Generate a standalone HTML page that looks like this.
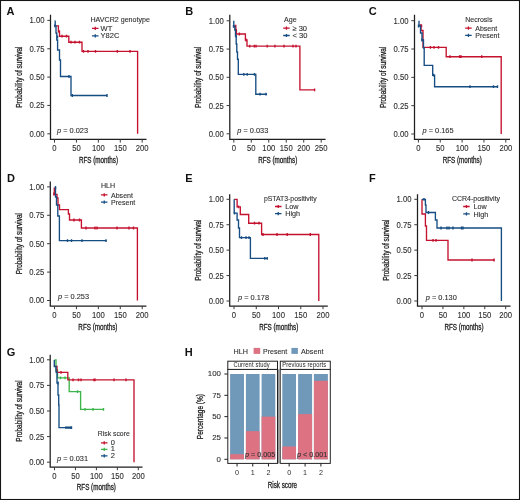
<!DOCTYPE html><html><head><meta charset="utf-8"><style>html,body{margin:0;padding:0;background:#fff;width:520px;height:500px;overflow:hidden;position:relative}</style></head><body><svg width="520" height="500" viewBox="0 0 520 500" style="position:absolute;left:0;top:0;will-change:transform;font-family:'Liberation Sans', sans-serif">
<rect x="0" y="0" width="520" height="500" fill="#fff"/>
<text x="6.5" y="14.6" font-size="11" font-weight="bold" fill="#111">A</text>
<path d="M50.5 14.8 V139.4 H146.5" fill="none" stroke="#1e1e1e" stroke-width="1.25"/>
<path d="M47.3 20.4 H50.5" stroke="#3a3a3a" stroke-width="1.0"/>
<g transform="translate(44.50 23.35) scale(1 1.12)"><text x="0" y="0" font-size="7.7" text-anchor="end" fill="#2e2e2e" font-weight="normal" stroke="#2e2e2e" stroke-width="0.1">1.00</text></g>
<path d="M47.3 48.75 H50.5" stroke="#3a3a3a" stroke-width="1.0"/>
<g transform="translate(44.50 51.70) scale(1 1.12)"><text x="0" y="0" font-size="7.7" text-anchor="end" fill="#2e2e2e" font-weight="normal" stroke="#2e2e2e" stroke-width="0.1">0.75</text></g>
<path d="M47.3 77.1 H50.5" stroke="#3a3a3a" stroke-width="1.0"/>
<g transform="translate(44.50 80.05) scale(1 1.12)"><text x="0" y="0" font-size="7.7" text-anchor="end" fill="#2e2e2e" font-weight="normal" stroke="#2e2e2e" stroke-width="0.1">0.50</text></g>
<path d="M47.3 105.45000000000002 H50.5" stroke="#3a3a3a" stroke-width="1.0"/>
<g transform="translate(44.50 108.40) scale(1 1.12)"><text x="0" y="0" font-size="7.7" text-anchor="end" fill="#2e2e2e" font-weight="normal" stroke="#2e2e2e" stroke-width="0.1">0.25</text></g>
<path d="M47.3 133.8 H50.5" stroke="#3a3a3a" stroke-width="1.0"/>
<g transform="translate(44.50 136.75) scale(1 1.12)"><text x="0" y="0" font-size="7.7" text-anchor="end" fill="#2e2e2e" font-weight="normal" stroke="#2e2e2e" stroke-width="0.1">0.00</text></g>
<path d="M54.5 139.4 V142.6" stroke="#3a3a3a" stroke-width="1.0"/>
<g transform="translate(54.50 151.30) scale(1 1.12)"><text x="0" y="0" font-size="7.7" text-anchor="middle" fill="#2e2e2e" font-weight="normal" stroke="#2e2e2e" stroke-width="0.1">0</text></g>
<path d="M76.425 139.4 V142.6" stroke="#3a3a3a" stroke-width="1.0"/>
<g transform="translate(76.42 151.30) scale(1 1.12)"><text x="0" y="0" font-size="7.7" text-anchor="middle" fill="#2e2e2e" font-weight="normal" stroke="#2e2e2e" stroke-width="0.1">50</text></g>
<path d="M98.35 139.4 V142.6" stroke="#3a3a3a" stroke-width="1.0"/>
<g transform="translate(98.35 151.30) scale(1 1.12)"><text x="0" y="0" font-size="7.7" text-anchor="middle" fill="#2e2e2e" font-weight="normal" stroke="#2e2e2e" stroke-width="0.1">100</text></g>
<path d="M120.275 139.4 V142.6" stroke="#3a3a3a" stroke-width="1.0"/>
<g transform="translate(120.28 151.30) scale(1 1.12)"><text x="0" y="0" font-size="7.7" text-anchor="middle" fill="#2e2e2e" font-weight="normal" stroke="#2e2e2e" stroke-width="0.1">150</text></g>
<path d="M142.2 139.4 V142.6" stroke="#3a3a3a" stroke-width="1.0"/>
<g transform="translate(142.20 151.30) scale(1 1.12)"><text x="0" y="0" font-size="7.7" text-anchor="middle" fill="#2e2e2e" font-weight="normal" stroke="#2e2e2e" stroke-width="0.1">200</text></g>
<g transform="translate(21.8 77.10000000000001) rotate(-90) scale(0.765 1)"><text x="0" y="0" font-size="8.5" text-anchor="middle" fill="#222" stroke="#222" stroke-width="0.3">Probability of survival</text></g>
<g transform="translate(98.5 163.3) scale(0.74 1)"><text x="0" y="0" font-size="8.5" text-anchor="middle" fill="#222" stroke="#222" stroke-width="0.3">RFS (months)</text></g>
<path d="M55.3 25.8 H58.4 V31.4 H59.5 V36.2 H68.8 V42.2 H82 V51.4 H137.6 V133.8" fill="none" stroke="#C4122F" stroke-width="1.35" stroke-linejoin="miter"/>
<path d="M58.9 30.0 V32.8 M62 34.800000000000004 V37.6 M66.5 34.800000000000004 V37.6 M71 40.800000000000004 V43.6 M75 40.800000000000004 V43.6 M79.5 40.800000000000004 V43.6 M83.5 50.0 V52.8 M88 50.0 V52.8 M95.5 50.0 V52.8 M117.3 50.0 V52.8 M130 50.0 V52.8" stroke="#C4122F" stroke-width="1.4"/>
<path d="M55.2 20.4 V25.8 H56 V33 H56.8 V40 H57.6 V50 H59.5 V60 H60.5 V76.5 H71 V95.5 H107" fill="none" stroke="#164D82" stroke-width="1.35" stroke-linejoin="miter"/>
<path d="M54.8 24.400000000000002 V27.2 M57.5 35.6 V38.4 M69 75.1 V77.9 M72.3 94.1 V96.9 M107 94.1 V96.9" stroke="#164D82" stroke-width="1.4"/>
<text x="90.5" y="21.9" font-size="7.1" text-anchor="start" fill="#2e2e2e" font-weight="normal" stroke="#2e2e2e" stroke-width="0.1">HAVCR2 genotype</text>
<path d="M92 28.4 H98.5 M95.25 26.799999999999997 V30.0" stroke="#C4122F" stroke-width="1.3"/>
<text x="100.6" y="31.0" font-size="7.5" text-anchor="start" fill="#2e2e2e" font-weight="normal" stroke="#2e2e2e" stroke-width="0.1">WT</text>
<path d="M92 35.8 H98.5 M95.25 34.199999999999996 V37.4" stroke="#164D82" stroke-width="1.3"/>
<text x="100.6" y="38.4" font-size="7.5" text-anchor="start" fill="#2e2e2e" font-weight="normal" stroke="#2e2e2e" stroke-width="0.1">Y82C</text>
<text x="57" y="132.6" font-size="7.4" fill="#2e2e2e" stroke="#2e2e2e" stroke-width="0.1"><tspan font-style="italic">p</tspan> = 0.023</text>
<text x="185.2" y="14.8" font-size="11" font-weight="bold" fill="#111">B</text>
<path d="M229.8 14.8 V139.4 H325.6" fill="none" stroke="#1e1e1e" stroke-width="1.25"/>
<path d="M226.60000000000002 20.8 H229.8" stroke="#3a3a3a" stroke-width="1.0"/>
<g transform="translate(223.80 23.75) scale(1 1.12)"><text x="0" y="0" font-size="7.7" text-anchor="end" fill="#2e2e2e" font-weight="normal" stroke="#2e2e2e" stroke-width="0.1">1.00</text></g>
<path d="M226.60000000000002 49.050000000000004 H229.8" stroke="#3a3a3a" stroke-width="1.0"/>
<g transform="translate(223.80 52.00) scale(1 1.12)"><text x="0" y="0" font-size="7.7" text-anchor="end" fill="#2e2e2e" font-weight="normal" stroke="#2e2e2e" stroke-width="0.1">0.75</text></g>
<path d="M226.60000000000002 77.30000000000001 H229.8" stroke="#3a3a3a" stroke-width="1.0"/>
<g transform="translate(223.80 80.25) scale(1 1.12)"><text x="0" y="0" font-size="7.7" text-anchor="end" fill="#2e2e2e" font-weight="normal" stroke="#2e2e2e" stroke-width="0.1">0.50</text></g>
<path d="M226.60000000000002 105.55000000000001 H229.8" stroke="#3a3a3a" stroke-width="1.0"/>
<g transform="translate(223.80 108.50) scale(1 1.12)"><text x="0" y="0" font-size="7.7" text-anchor="end" fill="#2e2e2e" font-weight="normal" stroke="#2e2e2e" stroke-width="0.1">0.25</text></g>
<path d="M226.60000000000002 133.8 H229.8" stroke="#3a3a3a" stroke-width="1.0"/>
<g transform="translate(223.80 136.75) scale(1 1.12)"><text x="0" y="0" font-size="7.7" text-anchor="end" fill="#2e2e2e" font-weight="normal" stroke="#2e2e2e" stroke-width="0.1">0.00</text></g>
<path d="M233.8 139.4 V142.6" stroke="#3a3a3a" stroke-width="1.0"/>
<g transform="translate(233.80 151.30) scale(1 1.12)"><text x="0" y="0" font-size="7.7" text-anchor="middle" fill="#2e2e2e" font-weight="normal" stroke="#2e2e2e" stroke-width="0.1">0</text></g>
<path d="M251.28 139.4 V142.6" stroke="#3a3a3a" stroke-width="1.0"/>
<g transform="translate(251.28 151.30) scale(1 1.12)"><text x="0" y="0" font-size="7.7" text-anchor="middle" fill="#2e2e2e" font-weight="normal" stroke="#2e2e2e" stroke-width="0.1">50</text></g>
<path d="M268.76 139.4 V142.6" stroke="#3a3a3a" stroke-width="1.0"/>
<g transform="translate(268.76 151.30) scale(1 1.12)"><text x="0" y="0" font-size="7.7" text-anchor="middle" fill="#2e2e2e" font-weight="normal" stroke="#2e2e2e" stroke-width="0.1">100</text></g>
<path d="M286.24 139.4 V142.6" stroke="#3a3a3a" stroke-width="1.0"/>
<g transform="translate(286.24 151.30) scale(1 1.12)"><text x="0" y="0" font-size="7.7" text-anchor="middle" fill="#2e2e2e" font-weight="normal" stroke="#2e2e2e" stroke-width="0.1">150</text></g>
<path d="M303.72 139.4 V142.6" stroke="#3a3a3a" stroke-width="1.0"/>
<g transform="translate(303.72 151.30) scale(1 1.12)"><text x="0" y="0" font-size="7.7" text-anchor="middle" fill="#2e2e2e" font-weight="normal" stroke="#2e2e2e" stroke-width="0.1">200</text></g>
<path d="M321.20000000000005 139.4 V142.6" stroke="#3a3a3a" stroke-width="1.0"/>
<g transform="translate(321.20 151.30) scale(1 1.12)"><text x="0" y="0" font-size="7.7" text-anchor="middle" fill="#2e2e2e" font-weight="normal" stroke="#2e2e2e" stroke-width="0.1">250</text></g>
<g transform="translate(201.0 77.30000000000001) rotate(-90) scale(0.765 1)"><text x="0" y="0" font-size="8.5" text-anchor="middle" fill="#222" stroke="#222" stroke-width="0.3">Probability of survival</text></g>
<g transform="translate(277.70000000000005 163.3) scale(0.74 1)"><text x="0" y="0" font-size="8.5" text-anchor="middle" fill="#222" stroke="#222" stroke-width="0.3">RFS (months)</text></g>
<path d="M234.5 25.5 H235.8 V30.5 H236.4 V34 H245.4 V40 H247 V46.1 H299.9 V89.9 H314.6" fill="none" stroke="#C4122F" stroke-width="1.35" stroke-linejoin="miter"/>
<path d="M236.3 29.1 V31.9 M239.4 32.6 V35.4 M246 38.6 V41.4 M249.7 44.7 V47.5 M254.3 44.7 V47.5 M256 44.7 V47.5 M267.2 44.7 V47.5 M274.9 44.7 V47.5 M284 44.7 V47.5 M293 44.7 V47.5 M296 44.7 V47.5 M314.6 88.5 V91.30000000000001" stroke="#C4122F" stroke-width="1.4"/>
<path d="M233.8 20.8 V26.4 H234.8 V30 H235.5 V36 H236.2 V44 H236.8 V52 H237.5 V59.2 H238.3 V74.3 H255.8 V94.2 H267" fill="none" stroke="#164D82" stroke-width="1.35" stroke-linejoin="miter"/>
<path d="M233.5 25.0 V27.799999999999997 M236 34.6 V37.4 M243.8 72.89999999999999 V75.7 M247.2 72.89999999999999 V75.7 M254.5 72.89999999999999 V75.7 M260 92.8 V95.60000000000001 M266 92.8 V95.60000000000001" stroke="#164D82" stroke-width="1.4"/>
<text x="284.1" y="21.5" font-size="7.1" text-anchor="start" fill="#2e2e2e" font-weight="normal" stroke="#2e2e2e" stroke-width="0.1">Age</text>
<path d="M283.2 28.1 H289.7 M286.45 26.5 V29.700000000000003" stroke="#C4122F" stroke-width="1.3"/>
<text x="292.5" y="30.700000000000003" font-size="7.5" text-anchor="start" fill="#2e2e2e" font-weight="normal" stroke="#2e2e2e" stroke-width="0.1">≥ 30</text>
<path d="M283.2 35.5 H289.7 M286.45 33.9 V37.1" stroke="#164D82" stroke-width="1.3"/>
<text x="292.5" y="38.1" font-size="7.5" text-anchor="start" fill="#2e2e2e" font-weight="normal" stroke="#2e2e2e" stroke-width="0.1">&lt; 30</text>
<text x="237.3" y="132.6" font-size="7.4" fill="#2e2e2e" stroke="#2e2e2e" stroke-width="0.1"><tspan font-style="italic">p</tspan> = 0.033</text>
<text x="368.7" y="14.8" font-size="11" font-weight="bold" fill="#111">C</text>
<path d="M414.5 14.8 V139.3 H510.0" fill="none" stroke="#1e1e1e" stroke-width="1.25"/>
<path d="M411.3 20.7 H414.5" stroke="#3a3a3a" stroke-width="1.0"/>
<g transform="translate(408.50 23.65) scale(1 1.12)"><text x="0" y="0" font-size="7.7" text-anchor="end" fill="#2e2e2e" font-weight="normal" stroke="#2e2e2e" stroke-width="0.1">1.00</text></g>
<path d="M411.3 49.025 H414.5" stroke="#3a3a3a" stroke-width="1.0"/>
<g transform="translate(408.50 51.98) scale(1 1.12)"><text x="0" y="0" font-size="7.7" text-anchor="end" fill="#2e2e2e" font-weight="normal" stroke="#2e2e2e" stroke-width="0.1">0.75</text></g>
<path d="M411.3 77.35 H414.5" stroke="#3a3a3a" stroke-width="1.0"/>
<g transform="translate(408.50 80.30) scale(1 1.12)"><text x="0" y="0" font-size="7.7" text-anchor="end" fill="#2e2e2e" font-weight="normal" stroke="#2e2e2e" stroke-width="0.1">0.50</text></g>
<path d="M411.3 105.675 H414.5" stroke="#3a3a3a" stroke-width="1.0"/>
<g transform="translate(408.50 108.62) scale(1 1.12)"><text x="0" y="0" font-size="7.7" text-anchor="end" fill="#2e2e2e" font-weight="normal" stroke="#2e2e2e" stroke-width="0.1">0.25</text></g>
<path d="M411.3 134.0 H414.5" stroke="#3a3a3a" stroke-width="1.0"/>
<g transform="translate(408.50 136.95) scale(1 1.12)"><text x="0" y="0" font-size="7.7" text-anchor="end" fill="#2e2e2e" font-weight="normal" stroke="#2e2e2e" stroke-width="0.1">0.00</text></g>
<path d="M418.4 139.3 V142.5" stroke="#3a3a3a" stroke-width="1.0"/>
<g transform="translate(418.40 151.20) scale(1 1.12)"><text x="0" y="0" font-size="7.7" text-anchor="middle" fill="#2e2e2e" font-weight="normal" stroke="#2e2e2e" stroke-width="0.1">0</text></g>
<path d="M440.25 139.3 V142.5" stroke="#3a3a3a" stroke-width="1.0"/>
<g transform="translate(440.25 151.20) scale(1 1.12)"><text x="0" y="0" font-size="7.7" text-anchor="middle" fill="#2e2e2e" font-weight="normal" stroke="#2e2e2e" stroke-width="0.1">50</text></g>
<path d="M462.09999999999997 139.3 V142.5" stroke="#3a3a3a" stroke-width="1.0"/>
<g transform="translate(462.10 151.20) scale(1 1.12)"><text x="0" y="0" font-size="7.7" text-anchor="middle" fill="#2e2e2e" font-weight="normal" stroke="#2e2e2e" stroke-width="0.1">100</text></g>
<path d="M483.95 139.3 V142.5" stroke="#3a3a3a" stroke-width="1.0"/>
<g transform="translate(483.95 151.20) scale(1 1.12)"><text x="0" y="0" font-size="7.7" text-anchor="middle" fill="#2e2e2e" font-weight="normal" stroke="#2e2e2e" stroke-width="0.1">150</text></g>
<path d="M505.79999999999995 139.3 V142.5" stroke="#3a3a3a" stroke-width="1.0"/>
<g transform="translate(505.80 151.20) scale(1 1.12)"><text x="0" y="0" font-size="7.7" text-anchor="middle" fill="#2e2e2e" font-weight="normal" stroke="#2e2e2e" stroke-width="0.1">200</text></g>
<g transform="translate(385.8 77.35) rotate(-90) scale(0.765 1)"><text x="0" y="0" font-size="8.5" text-anchor="middle" fill="#222" stroke="#222" stroke-width="0.3">Probability of survival</text></g>
<g transform="translate(462.25 163.3) scale(0.74 1)"><text x="0" y="0" font-size="8.5" text-anchor="middle" fill="#222" stroke="#222" stroke-width="0.3">RFS (months)</text></g>
<path d="M419.5 25 H421 V30.5 H423 V47.3 H446.2 V56.7 H501.2 V134" fill="none" stroke="#C4122F" stroke-width="1.35" stroke-linejoin="miter"/>
<path d="M421.5 24.6 V27.4 M430.4 45.9 V48.699999999999996 M434 45.9 V48.699999999999996 M438.5 45.9 V48.699999999999996 M450 55.300000000000004 V58.1 M459.6 55.300000000000004 V58.1 M461 55.300000000000004 V58.1 M481.7 55.300000000000004 V58.1" stroke="#C4122F" stroke-width="1.4"/>
<path d="M419 20.7 V26 H420.5 V33 H422 V40 H423.5 V48 H424.2 V65.4 H432.7 V75.2 H434.6 V86.7 H498" fill="none" stroke="#164D82" stroke-width="1.35" stroke-linejoin="miter"/>
<path d="M418.5 24.6 V27.4 M422 38.6 V41.4 M433.5 73.8 V76.60000000000001 M470 85.3 V88.10000000000001 M493.5 85.3 V88.10000000000001 M497.5 85.3 V88.10000000000001" stroke="#164D82" stroke-width="1.4"/>
<text x="465.2" y="21.8" font-size="7.0" text-anchor="start" fill="#2e2e2e" font-weight="normal" stroke="#2e2e2e" stroke-width="0.1">Necrosis</text>
<path d="M465.2 28.1 H471.7 M468.45 26.5 V29.700000000000003" stroke="#C4122F" stroke-width="1.3"/>
<text x="475.3" y="30.700000000000003" font-size="7.0" text-anchor="start" fill="#2e2e2e" font-weight="normal" stroke="#2e2e2e" stroke-width="0.1">Absent</text>
<path d="M465.2 35.300000000000004 H471.7 M468.45 33.7 V36.900000000000006" stroke="#164D82" stroke-width="1.3"/>
<text x="475.3" y="37.900000000000006" font-size="7.0" text-anchor="start" fill="#2e2e2e" font-weight="normal" stroke="#2e2e2e" stroke-width="0.1">Present</text>
<text x="422.5" y="132.6" font-size="7.4" fill="#2e2e2e" stroke="#2e2e2e" stroke-width="0.1"><tspan font-style="italic">p</tspan> = 0.165</text>
<text x="7.0" y="182.2" font-size="11" font-weight="bold" fill="#111">D</text>
<path d="M50.3 181.5 V306.0 H146.4" fill="none" stroke="#1e1e1e" stroke-width="1.25"/>
<path d="M47.099999999999994 186.9 H50.3" stroke="#3a3a3a" stroke-width="1.0"/>
<g transform="translate(44.30 189.85) scale(1 1.12)"><text x="0" y="0" font-size="7.7" text-anchor="end" fill="#2e2e2e" font-weight="normal" stroke="#2e2e2e" stroke-width="0.1">1.00</text></g>
<path d="M47.099999999999994 215.3 H50.3" stroke="#3a3a3a" stroke-width="1.0"/>
<g transform="translate(44.30 218.25) scale(1 1.12)"><text x="0" y="0" font-size="7.7" text-anchor="end" fill="#2e2e2e" font-weight="normal" stroke="#2e2e2e" stroke-width="0.1">0.75</text></g>
<path d="M47.099999999999994 243.7 H50.3" stroke="#3a3a3a" stroke-width="1.0"/>
<g transform="translate(44.30 246.65) scale(1 1.12)"><text x="0" y="0" font-size="7.7" text-anchor="end" fill="#2e2e2e" font-weight="normal" stroke="#2e2e2e" stroke-width="0.1">0.50</text></g>
<path d="M47.099999999999994 272.1 H50.3" stroke="#3a3a3a" stroke-width="1.0"/>
<g transform="translate(44.30 275.05) scale(1 1.12)"><text x="0" y="0" font-size="7.7" text-anchor="end" fill="#2e2e2e" font-weight="normal" stroke="#2e2e2e" stroke-width="0.1">0.25</text></g>
<path d="M47.099999999999994 300.5 H50.3" stroke="#3a3a3a" stroke-width="1.0"/>
<g transform="translate(44.30 303.45) scale(1 1.12)"><text x="0" y="0" font-size="7.7" text-anchor="end" fill="#2e2e2e" font-weight="normal" stroke="#2e2e2e" stroke-width="0.1">0.00</text></g>
<path d="M54.5 306.0 V309.2" stroke="#3a3a3a" stroke-width="1.0"/>
<g transform="translate(54.50 317.90) scale(1 1.12)"><text x="0" y="0" font-size="7.7" text-anchor="middle" fill="#2e2e2e" font-weight="normal" stroke="#2e2e2e" stroke-width="0.1">0</text></g>
<path d="M76.425 306.0 V309.2" stroke="#3a3a3a" stroke-width="1.0"/>
<g transform="translate(76.42 317.90) scale(1 1.12)"><text x="0" y="0" font-size="7.7" text-anchor="middle" fill="#2e2e2e" font-weight="normal" stroke="#2e2e2e" stroke-width="0.1">50</text></g>
<path d="M98.35 306.0 V309.2" stroke="#3a3a3a" stroke-width="1.0"/>
<g transform="translate(98.35 317.90) scale(1 1.12)"><text x="0" y="0" font-size="7.7" text-anchor="middle" fill="#2e2e2e" font-weight="normal" stroke="#2e2e2e" stroke-width="0.1">100</text></g>
<path d="M120.275 306.0 V309.2" stroke="#3a3a3a" stroke-width="1.0"/>
<g transform="translate(120.28 317.90) scale(1 1.12)"><text x="0" y="0" font-size="7.7" text-anchor="middle" fill="#2e2e2e" font-weight="normal" stroke="#2e2e2e" stroke-width="0.1">150</text></g>
<path d="M142.2 306.0 V309.2" stroke="#3a3a3a" stroke-width="1.0"/>
<g transform="translate(142.20 317.90) scale(1 1.12)"><text x="0" y="0" font-size="7.7" text-anchor="middle" fill="#2e2e2e" font-weight="normal" stroke="#2e2e2e" stroke-width="0.1">200</text></g>
<g transform="translate(21.8 243.7) rotate(-90) scale(0.765 1)"><text x="0" y="0" font-size="8.5" text-anchor="middle" fill="#222" stroke="#222" stroke-width="0.3">Probability of survival</text></g>
<g transform="translate(97.9 330.4) scale(0.74 1)"><text x="0" y="0" font-size="8.5" text-anchor="middle" fill="#222" stroke="#222" stroke-width="0.3">RFS (months)</text></g>
<path d="M54.3 187.5 V194.5 H57 V198 H58 V205 H59.5 V209.6 H68.4 V214 H69.5 V220 H81.4 V228 H137.4 V300.5" fill="none" stroke="#C4122F" stroke-width="1.35" stroke-linejoin="miter"/>
<path d="M53.9 192.6 V195.4 M74 218.6 V221.4 M79.5 218.6 V221.4 M86 226.6 V229.4 M95 226.6 V229.4 M97 226.6 V229.4 M117 226.6 V229.4 M129 226.6 V229.4 M133.5 226.6 V229.4" stroke="#C4122F" stroke-width="1.4"/>
<path d="M55.5 187 V197 H56.5 V205 H57.8 V216 H59.4 V240.6 H106.6" fill="none" stroke="#164D82" stroke-width="1.35" stroke-linejoin="miter"/>
<path d="M55.5 186.1 V188.9 M67.5 239.2 V242.0 M71.5 239.2 V242.0 M82 239.2 V242.0 M106 239.2 V242.0" stroke="#164D82" stroke-width="1.4"/>
<text x="101" y="188.4" font-size="7.1" text-anchor="start" fill="#2e2e2e" font-weight="normal" stroke="#2e2e2e" stroke-width="0.1">HLH</text>
<path d="M101 194.8 H107.5 M104.25 193.20000000000002 V196.4" stroke="#C4122F" stroke-width="1.3"/>
<text x="111.0" y="197.9" font-size="7.05" text-anchor="start" fill="#2e2e2e" font-weight="normal" stroke="#2e2e2e" stroke-width="0.1">Absent</text>
<path d="M101 202.10000000000002 H107.5 M104.25 200.50000000000003 V203.70000000000002" stroke="#164D82" stroke-width="1.3"/>
<text x="111.0" y="205.20000000000002" font-size="7.05" text-anchor="start" fill="#2e2e2e" font-weight="normal" stroke="#2e2e2e" stroke-width="0.1">Present</text>
<text x="58" y="299.3" font-size="7.4" fill="#2e2e2e" stroke="#2e2e2e" stroke-width="0.1"><tspan font-style="italic">p</tspan> = 0.253</text>
<text x="185.2" y="182.2" font-size="11" font-weight="bold" fill="#111">E</text>
<path d="M229.7 194.2 V306.0 H327.8" fill="none" stroke="#1e1e1e" stroke-width="1.25"/>
<path d="M226.5 199.3 H229.7" stroke="#3a3a3a" stroke-width="1.0"/>
<g transform="translate(223.70 202.25) scale(1 1.12)"><text x="0" y="0" font-size="7.7" text-anchor="end" fill="#2e2e2e" font-weight="normal" stroke="#2e2e2e" stroke-width="0.1">1.00</text></g>
<path d="M226.5 224.72500000000002 H229.7" stroke="#3a3a3a" stroke-width="1.0"/>
<g transform="translate(223.70 227.68) scale(1 1.12)"><text x="0" y="0" font-size="7.7" text-anchor="end" fill="#2e2e2e" font-weight="normal" stroke="#2e2e2e" stroke-width="0.1">0.75</text></g>
<path d="M226.5 250.15 H229.7" stroke="#3a3a3a" stroke-width="1.0"/>
<g transform="translate(223.70 253.10) scale(1 1.12)"><text x="0" y="0" font-size="7.7" text-anchor="end" fill="#2e2e2e" font-weight="normal" stroke="#2e2e2e" stroke-width="0.1">0.50</text></g>
<path d="M226.5 275.575 H229.7" stroke="#3a3a3a" stroke-width="1.0"/>
<g transform="translate(223.70 278.52) scale(1 1.12)"><text x="0" y="0" font-size="7.7" text-anchor="end" fill="#2e2e2e" font-weight="normal" stroke="#2e2e2e" stroke-width="0.1">0.25</text></g>
<path d="M226.5 301.0 H229.7" stroke="#3a3a3a" stroke-width="1.0"/>
<g transform="translate(223.70 303.95) scale(1 1.12)"><text x="0" y="0" font-size="7.7" text-anchor="end" fill="#2e2e2e" font-weight="normal" stroke="#2e2e2e" stroke-width="0.1">0.00</text></g>
<path d="M234.0 306.0 V309.2" stroke="#3a3a3a" stroke-width="1.0"/>
<g transform="translate(234.00 317.90) scale(1 1.12)"><text x="0" y="0" font-size="7.7" text-anchor="middle" fill="#2e2e2e" font-weight="normal" stroke="#2e2e2e" stroke-width="0.1">0</text></g>
<path d="M256.25 306.0 V309.2" stroke="#3a3a3a" stroke-width="1.0"/>
<g transform="translate(256.25 317.90) scale(1 1.12)"><text x="0" y="0" font-size="7.7" text-anchor="middle" fill="#2e2e2e" font-weight="normal" stroke="#2e2e2e" stroke-width="0.1">50</text></g>
<path d="M278.5 306.0 V309.2" stroke="#3a3a3a" stroke-width="1.0"/>
<g transform="translate(278.50 317.90) scale(1 1.12)"><text x="0" y="0" font-size="7.7" text-anchor="middle" fill="#2e2e2e" font-weight="normal" stroke="#2e2e2e" stroke-width="0.1">100</text></g>
<path d="M300.75 306.0 V309.2" stroke="#3a3a3a" stroke-width="1.0"/>
<g transform="translate(300.75 317.90) scale(1 1.12)"><text x="0" y="0" font-size="7.7" text-anchor="middle" fill="#2e2e2e" font-weight="normal" stroke="#2e2e2e" stroke-width="0.1">150</text></g>
<path d="M323.0 306.0 V309.2" stroke="#3a3a3a" stroke-width="1.0"/>
<g transform="translate(323.00 317.90) scale(1 1.12)"><text x="0" y="0" font-size="7.7" text-anchor="middle" fill="#2e2e2e" font-weight="normal" stroke="#2e2e2e" stroke-width="0.1">200</text></g>
<g transform="translate(201.0 250.15) rotate(-90) scale(0.765 1)"><text x="0" y="0" font-size="8.5" text-anchor="middle" fill="#222" stroke="#222" stroke-width="0.3">Probability of survival</text></g>
<g transform="translate(278.75 330.4) scale(0.74 1)"><text x="0" y="0" font-size="8.5" text-anchor="middle" fill="#222" stroke="#222" stroke-width="0.3">RFS (months)</text></g>
<path d="M234.2 199.3 H237.1 V206.8 H240.3 V214.5 H248.7 V223.2 H261.6 V234.5 H318.8 V301" fill="none" stroke="#C4122F" stroke-width="1.35" stroke-linejoin="miter"/>
<path d="M238.5 205.4 V208.20000000000002 M254.5 221.79999999999998 V224.6 M259 221.79999999999998 V224.6 M263 233.1 V235.9 M277 233.1 V235.9 M287.2 233.1 V235.9 M310.3 233.1 V235.9" stroke="#C4122F" stroke-width="1.4"/>
<path d="M234.2 199.3 V213.1 H237.1 V220 H238.5 V228 H239.5 V237.6 H250.4 V258.3 H267.9" fill="none" stroke="#164D82" stroke-width="1.35" stroke-linejoin="miter"/>
<path d="M234.5 211.7 V214.5 M241.5 236.2 V239.0 M246 236.2 V239.0 M249 236.2 V239.0 M264.8 256.90000000000003 V259.7 M267.2 256.90000000000003 V259.7" stroke="#164D82" stroke-width="1.4"/>
<text x="264" y="201.1" font-size="6.85" text-anchor="start" fill="#2e2e2e" font-weight="normal" stroke="#2e2e2e" stroke-width="0.1">pSTAT3-positivity</text>
<path d="M275 206.5 H281.5 M278.25 204.9 V208.1" stroke="#C4122F" stroke-width="1.3"/>
<text x="285.3" y="209.1" font-size="7.2" text-anchor="start" fill="#2e2e2e" font-weight="normal" stroke="#2e2e2e" stroke-width="0.1">Low</text>
<path d="M275 213.7 H281.5 M278.25 212.1 V215.29999999999998" stroke="#164D82" stroke-width="1.3"/>
<text x="285.3" y="216.29999999999998" font-size="7.2" text-anchor="start" fill="#2e2e2e" font-weight="normal" stroke="#2e2e2e" stroke-width="0.1">High</text>
<text x="238" y="299.6" font-size="7.4" fill="#2e2e2e" stroke="#2e2e2e" stroke-width="0.1"><tspan font-style="italic">p</tspan> = 0.178</text>
<text x="369.0" y="182.2" font-size="11" font-weight="bold" fill="#111">F</text>
<path d="M417.5 194.2 V306.0 H510.5" fill="none" stroke="#1e1e1e" stroke-width="1.25"/>
<path d="M414.3 199.3 H417.5" stroke="#3a3a3a" stroke-width="1.0"/>
<g transform="translate(411.50 202.25) scale(1 1.12)"><text x="0" y="0" font-size="7.7" text-anchor="end" fill="#2e2e2e" font-weight="normal" stroke="#2e2e2e" stroke-width="0.1">1.00</text></g>
<path d="M414.3 224.72500000000002 H417.5" stroke="#3a3a3a" stroke-width="1.0"/>
<g transform="translate(411.50 227.68) scale(1 1.12)"><text x="0" y="0" font-size="7.7" text-anchor="end" fill="#2e2e2e" font-weight="normal" stroke="#2e2e2e" stroke-width="0.1">0.75</text></g>
<path d="M414.3 250.15 H417.5" stroke="#3a3a3a" stroke-width="1.0"/>
<g transform="translate(411.50 253.10) scale(1 1.12)"><text x="0" y="0" font-size="7.7" text-anchor="end" fill="#2e2e2e" font-weight="normal" stroke="#2e2e2e" stroke-width="0.1">0.50</text></g>
<path d="M414.3 275.575 H417.5" stroke="#3a3a3a" stroke-width="1.0"/>
<g transform="translate(411.50 278.52) scale(1 1.12)"><text x="0" y="0" font-size="7.7" text-anchor="end" fill="#2e2e2e" font-weight="normal" stroke="#2e2e2e" stroke-width="0.1">0.25</text></g>
<path d="M414.3 301.0 H417.5" stroke="#3a3a3a" stroke-width="1.0"/>
<g transform="translate(411.50 303.95) scale(1 1.12)"><text x="0" y="0" font-size="7.7" text-anchor="end" fill="#2e2e2e" font-weight="normal" stroke="#2e2e2e" stroke-width="0.1">0.00</text></g>
<path d="M422.0 306.0 V309.2" stroke="#3a3a3a" stroke-width="1.0"/>
<g transform="translate(422.00 317.90) scale(1 1.12)"><text x="0" y="0" font-size="7.7" text-anchor="middle" fill="#2e2e2e" font-weight="normal" stroke="#2e2e2e" stroke-width="0.1">0</text></g>
<path d="M442.925 306.0 V309.2" stroke="#3a3a3a" stroke-width="1.0"/>
<g transform="translate(442.93 317.90) scale(1 1.12)"><text x="0" y="0" font-size="7.7" text-anchor="middle" fill="#2e2e2e" font-weight="normal" stroke="#2e2e2e" stroke-width="0.1">50</text></g>
<path d="M463.85 306.0 V309.2" stroke="#3a3a3a" stroke-width="1.0"/>
<g transform="translate(463.85 317.90) scale(1 1.12)"><text x="0" y="0" font-size="7.7" text-anchor="middle" fill="#2e2e2e" font-weight="normal" stroke="#2e2e2e" stroke-width="0.1">100</text></g>
<path d="M484.775 306.0 V309.2" stroke="#3a3a3a" stroke-width="1.0"/>
<g transform="translate(484.77 317.90) scale(1 1.12)"><text x="0" y="0" font-size="7.7" text-anchor="middle" fill="#2e2e2e" font-weight="normal" stroke="#2e2e2e" stroke-width="0.1">150</text></g>
<path d="M505.7 306.0 V309.2" stroke="#3a3a3a" stroke-width="1.0"/>
<g transform="translate(505.70 317.90) scale(1 1.12)"><text x="0" y="0" font-size="7.7" text-anchor="middle" fill="#2e2e2e" font-weight="normal" stroke="#2e2e2e" stroke-width="0.1">200</text></g>
<g transform="translate(388.5 250.15) rotate(-90) scale(0.765 1)"><text x="0" y="0" font-size="8.5" text-anchor="middle" fill="#222" stroke="#222" stroke-width="0.3">Probability of survival</text></g>
<g transform="translate(464.0 330.4) scale(0.74 1)"><text x="0" y="0" font-size="8.5" text-anchor="middle" fill="#222" stroke="#222" stroke-width="0.3">RFS (months)</text></g>
<path d="M422 199.3 V214 H425.4 V226 H426.5 V240.4 H448 V260 H494.4" fill="none" stroke="#C4122F" stroke-width="1.35" stroke-linejoin="miter"/>
<path d="M433 239.0 V241.8 M436 239.0 V241.8 M472 258.6 V261.4 M494 258.6 V261.4" stroke="#C4122F" stroke-width="1.4"/>
<path d="M422 199.3 H425.4 V205 H426 V212.5 H435.4 V220 H437 V228 H501.4 V301" fill="none" stroke="#164D82" stroke-width="1.35" stroke-linejoin="miter"/>
<path d="M424 197.9 V200.70000000000002 M428.5 211.1 V213.9 M441 226.6 V229.4 M447 226.6 V229.4 M449 226.6 V229.4 M453 226.6 V229.4 M461.5 226.6 V229.4 M463 226.6 V229.4" stroke="#164D82" stroke-width="1.4"/>
<text x="451.9" y="201.1" font-size="7.0" text-anchor="start" fill="#2e2e2e" font-weight="normal" stroke="#2e2e2e" stroke-width="0.1">CCR4-positivity</text>
<path d="M463.2 206.5 H469.7 M466.45 204.9 V208.1" stroke="#C4122F" stroke-width="1.3"/>
<text x="473.5" y="209.1" font-size="7.2" text-anchor="start" fill="#2e2e2e" font-weight="normal" stroke="#2e2e2e" stroke-width="0.1">Low</text>
<path d="M463.2 213.9 H469.7 M466.45 212.3 V215.5" stroke="#164D82" stroke-width="1.3"/>
<text x="473.5" y="216.5" font-size="7.2" text-anchor="start" fill="#2e2e2e" font-weight="normal" stroke="#2e2e2e" stroke-width="0.1">High</text>
<text x="425.8" y="299.6" font-size="7.4" fill="#2e2e2e" stroke="#2e2e2e" stroke-width="0.1"><tspan font-style="italic">p</tspan> = 0.130</text>
<text x="6.7" y="355.6" font-size="11" font-weight="bold" fill="#111">G</text>
<path d="M50.2 354.8 V467.0 H142.5" fill="none" stroke="#1e1e1e" stroke-width="1.25"/>
<path d="M47.0 359.8 H50.2" stroke="#3a3a3a" stroke-width="1.0"/>
<g transform="translate(44.20 362.75) scale(1 1.12)"><text x="0" y="0" font-size="7.7" text-anchor="end" fill="#2e2e2e" font-weight="normal" stroke="#2e2e2e" stroke-width="0.1">1.00</text></g>
<path d="M47.0 385.4 H50.2" stroke="#3a3a3a" stroke-width="1.0"/>
<g transform="translate(44.20 388.35) scale(1 1.12)"><text x="0" y="0" font-size="7.7" text-anchor="end" fill="#2e2e2e" font-weight="normal" stroke="#2e2e2e" stroke-width="0.1">0.75</text></g>
<path d="M47.0 411.0 H50.2" stroke="#3a3a3a" stroke-width="1.0"/>
<g transform="translate(44.20 413.95) scale(1 1.12)"><text x="0" y="0" font-size="7.7" text-anchor="end" fill="#2e2e2e" font-weight="normal" stroke="#2e2e2e" stroke-width="0.1">0.50</text></g>
<path d="M47.0 436.6 H50.2" stroke="#3a3a3a" stroke-width="1.0"/>
<g transform="translate(44.20 439.55) scale(1 1.12)"><text x="0" y="0" font-size="7.7" text-anchor="end" fill="#2e2e2e" font-weight="normal" stroke="#2e2e2e" stroke-width="0.1">0.25</text></g>
<path d="M47.0 462.2 H50.2" stroke="#3a3a3a" stroke-width="1.0"/>
<g transform="translate(44.20 465.15) scale(1 1.12)"><text x="0" y="0" font-size="7.7" text-anchor="end" fill="#2e2e2e" font-weight="normal" stroke="#2e2e2e" stroke-width="0.1">0.00</text></g>
<path d="M54.5 467.0 V470.2" stroke="#3a3a3a" stroke-width="1.0"/>
<g transform="translate(54.50 478.90) scale(1 1.12)"><text x="0" y="0" font-size="7.7" text-anchor="middle" fill="#2e2e2e" font-weight="normal" stroke="#2e2e2e" stroke-width="0.1">0</text></g>
<path d="M75.45 467.0 V470.2" stroke="#3a3a3a" stroke-width="1.0"/>
<g transform="translate(75.45 478.90) scale(1 1.12)"><text x="0" y="0" font-size="7.7" text-anchor="middle" fill="#2e2e2e" font-weight="normal" stroke="#2e2e2e" stroke-width="0.1">50</text></g>
<path d="M96.4 467.0 V470.2" stroke="#3a3a3a" stroke-width="1.0"/>
<g transform="translate(96.40 478.90) scale(1 1.12)"><text x="0" y="0" font-size="7.7" text-anchor="middle" fill="#2e2e2e" font-weight="normal" stroke="#2e2e2e" stroke-width="0.1">100</text></g>
<path d="M117.35 467.0 V470.2" stroke="#3a3a3a" stroke-width="1.0"/>
<g transform="translate(117.35 478.90) scale(1 1.12)"><text x="0" y="0" font-size="7.7" text-anchor="middle" fill="#2e2e2e" font-weight="normal" stroke="#2e2e2e" stroke-width="0.1">150</text></g>
<path d="M138.3 467.0 V470.2" stroke="#3a3a3a" stroke-width="1.0"/>
<g transform="translate(138.30 478.90) scale(1 1.12)"><text x="0" y="0" font-size="7.7" text-anchor="middle" fill="#2e2e2e" font-weight="normal" stroke="#2e2e2e" stroke-width="0.1">200</text></g>
<g transform="translate(21.8 411.0) rotate(-90) scale(0.765 1)"><text x="0" y="0" font-size="8.5" text-anchor="middle" fill="#222" stroke="#222" stroke-width="0.3">Probability of survival</text></g>
<g transform="translate(96.35 490.3) scale(0.74 1)"><text x="0" y="0" font-size="8.5" text-anchor="middle" fill="#222" stroke="#222" stroke-width="0.3">RFS (months)</text></g>
<path d="M54.5 359.8 H56 V370 H57.5 V377.8 H69.2 V391.6 H80.6 V409.4 H104" fill="none" stroke="#3DB54B" stroke-width="1.35" stroke-linejoin="miter"/>
<path d="M60.5 376.40000000000003 V379.2 M65 376.40000000000003 V379.2 M77.5 390.20000000000005 V393.0 M85 408.0 V410.79999999999995 M93 408.0 V410.79999999999995 M103.5 408.0 V410.79999999999995" stroke="#3DB54B" stroke-width="1.4"/>
<path d="M54 366.4 H57 V372.4 H67.8 V379.8 H134 V462.2" fill="none" stroke="#C4122F" stroke-width="1.35" stroke-linejoin="miter"/>
<path d="M61 371.0 V373.79999999999995 M73 378.40000000000003 V381.2 M78.5 378.40000000000003 V381.2 M81 378.40000000000003 V381.2 M94 378.40000000000003 V381.2 M95 378.40000000000003 V381.2 M114 378.40000000000003 V381.2 M126 378.40000000000003 V381.2" stroke="#C4122F" stroke-width="1.4"/>
<path d="M54.3 360 V366.5 H56 V372 H57 V383 H58 V395 H58.7 V405 H59 V427.6 H71.6" fill="none" stroke="#164D82" stroke-width="1.35" stroke-linejoin="miter"/>
<path d="M58 381.6 V384.4 M66 426.20000000000005 V429.0 M68 426.20000000000005 V429.0 M70 426.20000000000005 V429.0 M71.5 426.20000000000005 V429.0" stroke="#164D82" stroke-width="1.4"/>
<text x="97.8" y="436.0" font-size="6.85" text-anchor="start" fill="#2e2e2e" font-weight="normal" stroke="#2e2e2e" stroke-width="0.1">Risk score</text>
<path d="M101 442.9 H107.5 M104.25 441.29999999999995 V444.5" stroke="#C4122F" stroke-width="1.3"/>
<text x="110.8" y="444.79999999999995" font-size="7.5" text-anchor="start" fill="#2e2e2e" font-weight="normal" stroke="#2e2e2e" stroke-width="0.1">0</text>
<path d="M101 449.4 H107.5 M104.25 447.79999999999995 V451.0" stroke="#3DB54B" stroke-width="1.3"/>
<text x="110.8" y="451.29999999999995" font-size="7.5" text-anchor="start" fill="#2e2e2e" font-weight="normal" stroke="#2e2e2e" stroke-width="0.1">1</text>
<path d="M101 455.9 H107.5 M104.25 454.29999999999995 V457.5" stroke="#164D82" stroke-width="1.3"/>
<text x="110.8" y="457.79999999999995" font-size="7.5" text-anchor="start" fill="#2e2e2e" font-weight="normal" stroke="#2e2e2e" stroke-width="0.1">2</text>
<text x="57" y="460.6" font-size="7.4" fill="#2e2e2e" stroke="#2e2e2e" stroke-width="0.1"><tspan font-style="italic">p</tspan> = 0.031</text>
<text x="184.7" y="355.6" font-size="11" font-weight="bold" fill="#111">H</text>
<text x="233.6" y="354.0" font-size="7.2" text-anchor="start" fill="#2e2e2e" font-weight="normal" stroke="#2e2e2e" stroke-width="0.1">HLH</text>
<rect x="253.6" y="347.9" width="6.6" height="6.0" fill="#DD7282"/>
<text x="263.0" y="353.8" font-size="7.0" text-anchor="start" fill="#2e2e2e" font-weight="normal" stroke="#2e2e2e" stroke-width="0.1">Present</text>
<rect x="291.4" y="347.9" width="6.5" height="6.0" fill="#7098B8"/>
<text x="301.0" y="354.0" font-size="7.2" text-anchor="start" fill="#2e2e2e" font-weight="normal" stroke="#2e2e2e" stroke-width="0.1">Absent</text>
<rect x="230.1" y="374.0" width="13.90" height="85.30000000000001" fill="#7098B8"/>
<rect x="230.1" y="454.18" width="13.90" height="5.12" fill="#DD7282"/>
<rect x="245.9" y="374.0" width="13.70" height="85.30000000000001" fill="#7098B8"/>
<rect x="245.9" y="431.15" width="13.70" height="28.15" fill="#DD7282"/>
<rect x="261.6" y="374.0" width="13.70" height="85.30000000000001" fill="#7098B8"/>
<rect x="261.6" y="416.65" width="13.70" height="42.65" fill="#DD7282"/>
<rect x="227.8" y="369.4" width="49.69999999999999" height="94.0" fill="none" stroke="#222" stroke-width="1"/>
<rect x="227.8" y="361.2" width="49.69999999999999" height="8.199999999999989" fill="#fff" stroke="#222" stroke-width="1"/>
<g transform="translate(251.65 367.20) scale(1 1.1)"><text x="0" y="0" font-size="5.75" text-anchor="middle" fill="#222" font-weight="normal" letter-spacing="0.15">Current study</text></g>
<path d="M237.05 463.4 V466.5" stroke="#1e1e1e" stroke-width="1"/>
<text x="237.05" y="475.4" font-size="7.2" text-anchor="middle" fill="#2e2e2e" font-weight="normal" >0</text>
<path d="M252.75 463.4 V466.5" stroke="#1e1e1e" stroke-width="1"/>
<text x="252.75" y="475.4" font-size="7.2" text-anchor="middle" fill="#2e2e2e" font-weight="normal" >1</text>
<path d="M268.45000000000005 463.4 V466.5" stroke="#1e1e1e" stroke-width="1"/>
<text x="268.45000000000005" y="475.4" font-size="7.2" text-anchor="middle" fill="#2e2e2e" font-weight="normal" >2</text>
<rect x="282.3" y="374.0" width="13.70" height="85.30000000000001" fill="#7098B8"/>
<rect x="282.3" y="446.50" width="13.70" height="12.80" fill="#DD7282"/>
<rect x="298.1" y="374.0" width="14.00" height="85.30000000000001" fill="#7098B8"/>
<rect x="298.1" y="414.09" width="14.00" height="45.21" fill="#DD7282"/>
<rect x="313.9" y="374.0" width="14.00" height="85.30000000000001" fill="#7098B8"/>
<rect x="313.9" y="380.82" width="14.00" height="78.48" fill="#DD7282"/>
<rect x="280.3" y="369.4" width="50.0" height="94.0" fill="none" stroke="#222" stroke-width="1"/>
<rect x="280.3" y="361.2" width="50.0" height="8.199999999999989" fill="#fff" stroke="#222" stroke-width="1"/>
<g transform="translate(304.30 367.20) scale(1 1.1)"><text x="0" y="0" font-size="5.75" text-anchor="middle" fill="#222" font-weight="normal" letter-spacing="0.15">Previous reports</text></g>
<path d="M289.15 463.4 V466.5" stroke="#1e1e1e" stroke-width="1"/>
<text x="289.15" y="475.4" font-size="7.2" text-anchor="middle" fill="#2e2e2e" font-weight="normal" >0</text>
<path d="M305.1 463.4 V466.5" stroke="#1e1e1e" stroke-width="1"/>
<text x="305.1" y="475.4" font-size="7.2" text-anchor="middle" fill="#2e2e2e" font-weight="normal" >1</text>
<path d="M320.9 463.4 V466.5" stroke="#1e1e1e" stroke-width="1"/>
<text x="320.9" y="475.4" font-size="7.2" text-anchor="middle" fill="#2e2e2e" font-weight="normal" >2</text>
<rect x="278.0" y="369.4" width="2.3" height="94" fill="#9a9a9a"/>
<path d="M224.4 459.3 H227.8" stroke="#1e1e1e" stroke-width="1"/>
<text x="221.0" y="461.5" font-size="7.9" text-anchor="end" fill="#2e2e2e" font-weight="normal" stroke="#2e2e2e" stroke-width="0.1">0</text>
<path d="M224.4 437.975 H227.8" stroke="#1e1e1e" stroke-width="1"/>
<text x="221.0" y="440.175" font-size="7.9" text-anchor="end" fill="#2e2e2e" font-weight="normal" stroke="#2e2e2e" stroke-width="0.1">25</text>
<path d="M224.4 416.65 H227.8" stroke="#1e1e1e" stroke-width="1"/>
<text x="221.0" y="418.84999999999997" font-size="7.9" text-anchor="end" fill="#2e2e2e" font-weight="normal" stroke="#2e2e2e" stroke-width="0.1">50</text>
<path d="M224.4 395.325 H227.8" stroke="#1e1e1e" stroke-width="1"/>
<text x="221.0" y="397.525" font-size="7.9" text-anchor="end" fill="#2e2e2e" font-weight="normal" stroke="#2e2e2e" stroke-width="0.1">75</text>
<path d="M224.4 374.0 H227.8" stroke="#1e1e1e" stroke-width="1"/>
<text x="221.0" y="376.2" font-size="7.9" text-anchor="end" fill="#2e2e2e" font-weight="normal" stroke="#2e2e2e" stroke-width="0.1">100</text>
<text x="245.0" y="456.8" font-size="7.2" fill="#2e2e2e" stroke="#2e2e2e" stroke-width="0.1"><tspan font-style="italic">p</tspan> = 0.005</text>
<text x="297.0" y="456.8" font-size="7.2" fill="#2e2e2e" stroke="#2e2e2e" stroke-width="0.1"><tspan font-style="italic">p</tspan> &lt; 0.001</text>
<g transform="translate(202.6 416.6) rotate(-90) scale(0.765 1)"><text x="0" y="0" font-size="8.5" text-anchor="middle" fill="#222" stroke="#222" stroke-width="0.3">Percentage (%)</text></g>
<g transform="translate(282.4 487.7) scale(0.74 1)"><text x="0" y="0" font-size="8.5" text-anchor="middle" fill="#222" stroke="#222" stroke-width="0.3">Risk score</text></g>
<rect x="0.5" y="0.5" width="519" height="499" fill="none" stroke="#151515" stroke-width="1.1"/>
</svg></body></html>
